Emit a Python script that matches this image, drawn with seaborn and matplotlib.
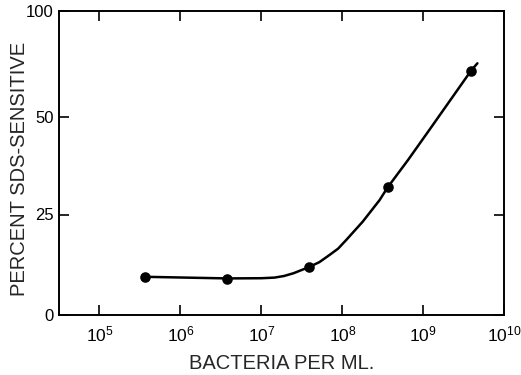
import numpy as np
import pandas as pd
import matplotlib
matplotlib.use("Agg")
import matplotlib.pyplot as plt
import seaborn as sns

# measured data points
bacteria = [3.67e5, 3.8e6, 3.85e7, 3.63e8, 3.88e9]
percent = [9.5, 9.0, 11.9, 32.0, 71.9]

# hand-drawn smooth curve
curve_x = [3.67e5, 3.8e6, 1.0e7, 1.45e7, 1.9e7, 2.5e7, 3.85e7, 5.2e7, 6.9e7, 8.85e7,
           1.12e8, 1.78e8, 2.88e8, 3.63e8, 6.46e8, 1.2e9, 3.88e9, 4.65e9]
curve_y = [9.5, 9.1, 9.15, 9.3, 9.7, 10.4, 11.9, 13.15, 14.9, 16.5,
           18.7, 23.2, 28.7, 32.0, 39.0, 46.9, 71.9, 75.4]

x_ticks = [1e5, 1e6, 1e7, 1e8, 1e9, 1e10]
x_ticklabels = [r"$\mathregular{10^{5}}$", r"$\mathregular{10^{6}}$", r"$\mathregular{10^{7}}$",
                r"$\mathregular{10^{8}}$", r"$\mathregular{10^{9}}$", r"$\mathregular{10^{10}}$"]
y_ticks = [0, 25, 50, 100]
y_ticklabels = ["0", "25", "50", "100"]

sns.set_style("ticks")
plt.rcParams["font.family"] = ["Liberation Sans", "DejaVu Sans"]
plt.rcParams["mathtext.fontset"] = "custom"
plt.rcParams["mathtext.rm"] = "Liberation Sans"

fig = plt.figure(figsize=(5.21, 3.75), dpi=100)
ax = fig.add_axes([59 / 521, 60 / 375, (504.3 - 59) / 521, (315 - 11) / 375])

# non-uniform percent axis as printed in the original figure
_yd = [-100, 0, 25, 50, 100, 200]
_yp = [-402, 0, 100.5, 197.7, 304, 410.3]
def _fwd(v):
    return np.interp(v, _yd, _yp)
def _inv(v):
    return np.interp(v, _yp, _yd)

ax.set_xscale("log")
ax.set_yscale("function", functions=(_fwd, _inv))

curve_df = pd.DataFrame({"x": curve_x, "y": curve_y})
pts_df = pd.DataFrame({"x": bacteria, "y": percent})
sns.lineplot(data=curve_df, x="x", y="y", ax=ax, color="black", lw=1.8,
             estimator=None, sort=False)
sns.scatterplot(data=pts_df, x="x", y="y", ax=ax, color="black", s=58,
                edgecolor="black", linewidth=0, zorder=5)

ax.set_xlim(10 ** 4.5, 1e10)
ax.set_ylim(0, 100)
ax.set_xticks(x_ticks)
ax.set_xticklabels(x_ticklabels)
ax.xaxis.set_minor_locator(matplotlib.ticker.NullLocator())
ax.set_yticks(y_ticks)
ax.set_yticklabels(y_ticklabels)
ax.yaxis.set_minor_locator(matplotlib.ticker.NullLocator())

ax.tick_params(axis="both", direction="in", length=7, width=1.2, colors="black",
               labelsize=12, top=True, right=True)
ax.tick_params(axis="x", pad=7, labelsize=12.5)
ax.tick_params(axis="y", pad=4)
for s in ax.spines.values():
    s.set_linewidth(1.4)
    s.set_color("black")

ax.set_xlabel("BACTERIA PER ML.", fontsize=14.5, labelpad=7)
ax.set_ylabel("PERCENT SDS-SENSITIVE", fontsize=14.5)
ax.yaxis.set_label_coords(-0.068, 0.48)

fig.savefig("out.png", dpi=100)
